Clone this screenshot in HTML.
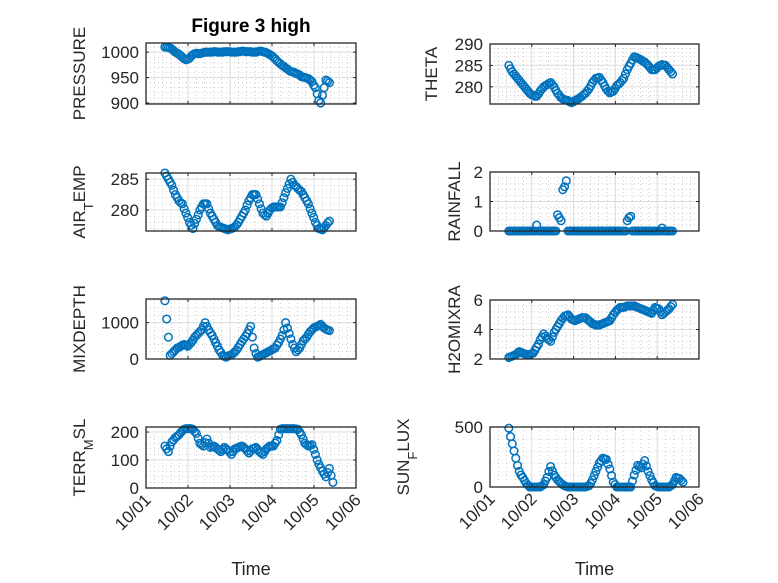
<!DOCTYPE html>
<html><head><meta charset="utf-8">
<style>
html,body{margin:0;padding:0;background:#fff;}
svg{display:block;font-family:"Liberation Sans","DejaVu Sans",sans-serif;}
</style></head>
<body>
<svg id="fig" width="778" height="583" viewBox="0 0 778 583">
<text x="251" y="32" text-anchor="middle" font-size="19" font-weight="bold" fill="#000">Figure 3 high</text>
</svg>
<script>
const startDay = 0.45;
const stepDay = 1/24;
const dayTicks = ["10/01","10/02","10/03","10/04","10/05","10/06"];

const pressure = [1010,1010,1009,1008,1006,1003,1000,998,996,993,990,987,985,986,988,992,995,997,998,997,997,998,999,1000,1000,1000,1000,1000,1001,1001,1000,1000,1000,1000,1001,1001,1001,1001,1000,1000,1000,1000,1001,1001,1002,1002,1001,1001,1001,1001,1000,1000,1000,1001,1002,1002,1001,1000,999,997,995,993,990,987,983,980,977,974,972,969,967,964,962,961,960,958,957,955,952,951,950,949,948,945,942,935,930,918,905,900,915,930,945,943,940];
const theta = [285,284.2,283.5,283,282.5,282,281.5,281,280.5,280,279.5,279,278.5,278.2,278,277.8,277.8,278.3,279,279.5,280,280.3,280.5,280.8,281,280.5,280,279.2,278.5,278,277.5,277.2,277,276.9,276.8,276.5,276.3,276.5,276.8,277,277.2,277.5,277.8,278.2,278.5,279,279.5,280.2,281,281.5,282,282.1,282.2,281.6,281,280.2,279.5,279,278.6,278.8,279,279.6,280.3,280.6,281,281.5,282,283,284,284.8,285.5,286.3,287,286.9,286.7,286.5,286.3,286,285.8,285.4,285,284.5,284,284,284,284.4,284.8,285,285.2,285.1,285,284.5,284,283.5,283];
const airTemp = [286,285.5,285,284.5,284,283.2,282.5,282,281.5,281.2,281,280.2,279.5,278.8,278,277.5,277,277.8,278.5,279.2,280,280.5,281,281,281,280.2,279.5,279,278.5,278,277.5,277.3,277.2,277.1,277,276.9,276.8,276.9,277,277.1,277.3,277.6,278,278.5,279,279.5,280,280.8,281.5,282,282.5,282.5,282.5,281.8,281,280.2,279.5,279.2,279,279.5,280,280.3,280.5,280.5,280.5,280.5,280.5,281.2,282,282.8,283.5,284.2,285,284.5,284,283.8,283.5,283.2,283,282.5,282,281.5,281,280.2,279.5,278.8,278,277.5,277,276.9,276.8,277.1,277.5,277.9,278.2];
const rainfall = [0,0,0,0,0,0,0,0,0,0,
 0,0,0,0,0,0,0.2,0,0,0,
 0,0,0,0,0,0,0,0,0.55,0.45,
 0.35,1.4,1.5,1.7,0,0,0,0,0,0,
 0,0,0,0,0,0,0,0,0,0,
 0,0,0,0,0,0,0,0,0,0,
 0,0,0,0,0,0,0,0,0.35,0.45,
 0.5,0,0,0,0,0,0,0,0,0,
 0,0,0,0,0,0,0,0,0.1,0,
 0,0,0,0,0];
const mixDepth = [1600,1100,600,100,150,200,250,300,320,350,380,400,380,350,400,450,520,600,650,700,750,800,900,1000,900,800,720,650,550,450,350,250,180,100,70,50,80,100,120,150,200,250,320,400,480,550,620,700,800,900,600,300,150,50,70,100,120,150,170,200,220,250,280,300,380,450,550,650,800,1000,850,700,550,400,300,200,250,300,400,500,550,600,680,750,800,850,880,900,920,950,900,850,820,800,780];
const h2oMix = [2.1,2.15,2.2,2.25,2.3,2.4,2.5,2.45,2.4,2.35,2.3,2.3,2.3,2.35,2.4,2.6,2.8,3.0,3.3,3.5,3.7,3.55,3.4,3.3,3.2,3.5,3.8,4.0,4.2,4.4,4.6,4.75,4.9,4.95,5.0,4.85,4.7,4.65,4.6,4.65,4.7,4.75,4.8,4.8,4.8,4.7,4.6,4.5,4.4,4.35,4.3,4.3,4.3,4.35,4.4,4.45,4.5,4.55,4.6,4.8,5.0,5.15,5.3,5.4,5.5,5.5,5.5,5.55,5.6,5.6,5.6,5.6,5.6,5.55,5.5,5.45,5.4,5.35,5.3,5.25,5.2,5.15,5.1,5.3,5.5,5.45,5.4,5.2,5.0,5.1,5.2,5.3,5.4,5.55,5.7];
const terrMsl = [150,140,130,150,165,172,180,185,190,198,205,210,212,212,212,212,210,202,195,178,160,155,150,162,175,160,145,148,150,145,140,135,130,138,145,140,135,128,120,130,140,142,145,148,150,145,140,132,125,132,140,142,145,138,130,125,120,130,140,145,150,150,150,160,170,190,210,212,212,212,212,212,212,212,212,211,210,200,190,175,160,155,150,152,155,138,120,100,85,72,60,50,40,55,70,45,20];
const sunFlux = [490,420,360,300,240,180,130,100,80,55,30,15,0,0,0,0,0,0,0,10,20,50,80,130,170,135,100,80,60,45,30,20,10,5,0,0,0,0,0,0,0,0,0,0,0,5,10,30,60,95,130,165,200,220,240,235,230,190,150,95,40,20,0,0,0,0,0,0,0,0,0,50,100,140,180,170,160,190,220,175,130,95,60,35,10,5,0,0,0,0,0,0,0,10,20,50,80,75,70,55,40];

const pressureTicks = [900,950,1000];
const thetaTicks = [280,285,290];
const airTicks = [280,285];
const rainTicks = [0,1,2];
const mixTicks = [0,1000];
const h2oTicks = [2,4,6];
const terrTicks = [0,100,200];
const sunTicks = [0,500];

const NS = "http://www.w3.org/2000/svg";
const svg = document.getElementById("fig");
function mk(tag, attrs, parent){
  const e = document.createElementNS(NS, tag);
  for (const k in attrs) e.setAttribute(k, attrs[k]);
  (parent||svg).appendChild(e);
  return e;
}

function panel(cfg){
  const g = mk("g", {});
  
  
  const L = cfg.x0, R = cfg.x1, T = cfg.y0, B = cfg.y1;
  const xs = d => L + d / 5 * (R - L);
  const ys = v => B - (v - cfg.ymin) / (cfg.ymax - cfg.ymin) * (B - T);
  mk("rect", {x:L, y:T, width:R-L, height:B-T, fill:"#fff"}, g);
  for (let d = 0; d < 5; d += 0.2) {
    if (Math.abs(d - Math.round(d)) < 1e-6) continue;
    mk("line", {x1:xs(d), x2:xs(d), y1:T, y2:B, stroke:"#b0b0b0", "stroke-width":0.6, "stroke-dasharray":"1,3"}, g);
  }
  const tks = cfg.ticks;
  const tstep = tks.length > 1 ? tks[1] - tks[0] : 1;
  const mstep = tstep / cfg.minorDiv;
  for (let v = tks[0] - tstep; v <= cfg.ymax + 1e-9; v += mstep) {
    if (v < cfg.ymin - 1e-9) continue;
    const r = (v - tks[0]) / tstep;
    if (Math.abs(r - Math.round(r)) < 1e-6) continue;
    mk("line", {x1:L, x2:R, y1:ys(v), y2:ys(v), stroke:"#b0b0b0", "stroke-width":0.6, "stroke-dasharray":"1,3"}, g);
  }
  for (let i = 1; i < 5; i++) mk("line", {x1:xs(i), x2:xs(i), y1:T, y2:B, stroke:"#dcdcdc", "stroke-width":1}, g);
  tks.forEach(v => { if (v > cfg.ymin && v < cfg.ymax) mk("line", {x1:L, x2:R, y1:ys(v), y2:ys(v), stroke:"#dcdcdc", "stroke-width":1}, g); });
  const dataG = mk("g", {}, g);
  
  
  cfg.data.forEach((v, i) => {
    const c = mk("circle", {cx:xs(startDay + i*stepDay), cy:ys(v), r:3.8, fill:"none", stroke:"#0072BD", "stroke-width":1.5}, dataG);
    
    
  });
  mk("rect", {x:L, y:T, width:R-L, height:B-T, fill:"none", stroke:"#262626", "stroke-width":1.3}, g);
  for (let i = 0; i <= 5; i++) {
    mk("line", {x1:xs(i), x2:xs(i), y1:B, y2:B-3, stroke:"#262626"}, g);
    mk("line", {x1:xs(i), x2:xs(i), y1:T, y2:T+3, stroke:"#262626"}, g);
    if (cfg.xlabels) {
      const t = mk("text", {x:xs(i)+6, y:B+13, "text-anchor":"end", "font-size":17, fill:"#262626", transform:`rotate(-45 ${xs(i)+6} ${B+13})`}, g);
      t.textContent = dayTicks[i];
      
      
    }
  }
  tks.forEach(v => {
    mk("line", {x1:L, x2:L+3, y1:ys(v), y2:ys(v), stroke:"#262626"}, g);
    mk("line", {x1:R, x2:R-3, y1:ys(v), y2:ys(v), stroke:"#262626"}, g);
    const t = mk("text", {x:L-7, y:ys(v)+6, "text-anchor":"end", "font-size":17, fill:"#262626"}, g);
    t.textContent = String(v);
    
    
  });
  const cy = (T + B) / 2;
  const yl = mk("text", {x:cfg.labelX, y:cy, "text-anchor":"middle", "font-size":17, fill:"#262626", transform:`rotate(-90 ${cfg.labelX} ${cy})`}, g);
  yl.innerHTML = cfg.label;
  
  
  if (cfg.xlabels) {
    const xt = mk("text", {x:(L+R)/2, y:575, "text-anchor":"middle", "font-size":18, fill:"#262626"}, g);
    xt.textContent = "Time";
    
    
  }
}

const LX0 = 146, LX1 = 356, RX0 = 490, RX1 = 699;
panel({name:"pressure", x0:LX0, x1:LX1, y0:43, y1:104, ymin:898, ymax:1018, ticks:pressureTicks, minorDiv:5, data:pressure, label:"PRESSURE", labelX:85});
panel({name:"theta", x0:RX0, x1:RX1, y0:44, y1:104, ymin:276, ymax:290, ticks:thetaTicks, minorDiv:5, data:theta, label:"THETA", labelX:437});
panel({name:"air-temp", x0:LX0, x1:LX1, y0:173, y1:231, ymin:276.6, ymax:286, ticks:airTicks, minorDiv:5, data:airTemp, label:'AIR<tspan baseline-shift="sub" font-size="13">T</tspan>EMP', labelX:85});
panel({name:"rainfall", x0:RX0, x1:RX1, y0:172, y1:231, ymin:0, ymax:2, ticks:rainTicks, minorDiv:5, data:rainfall, label:"RAINFALL", labelX:460});
panel({name:"mixdepth", x0:LX0, x1:LX1, y0:299, y1:359, ymin:0, ymax:1650, ticks:mixTicks, minorDiv:5, data:mixDepth, label:"MIXDEPTH", labelX:85});
panel({name:"h2omixra", x0:RX0, x1:RX1, y0:300, y1:359, ymin:2, ymax:6, ticks:h2oTicks, minorDiv:5, data:h2oMix, label:"H2OMIXRA", labelX:460});
panel({name:"terr-msl", x0:LX0, x1:LX1, y0:427, y1:488, ymin:0, ymax:218, ticks:terrTicks, minorDiv:5, data:terrMsl, label:'TERR<tspan baseline-shift="sub" font-size="13">M</tspan>SL', labelX:85, xlabels:true});
panel({name:"sun-flux", x0:RX0, x1:RX1, y0:427, y1:487, ymin:0, ymax:500, ticks:sunTicks, minorDiv:5, data:sunFlux, label:'SUN<tspan baseline-shift="sub" font-size="13">F</tspan>LUX', labelX:409, xlabels:true});
</script>
</body></html>
